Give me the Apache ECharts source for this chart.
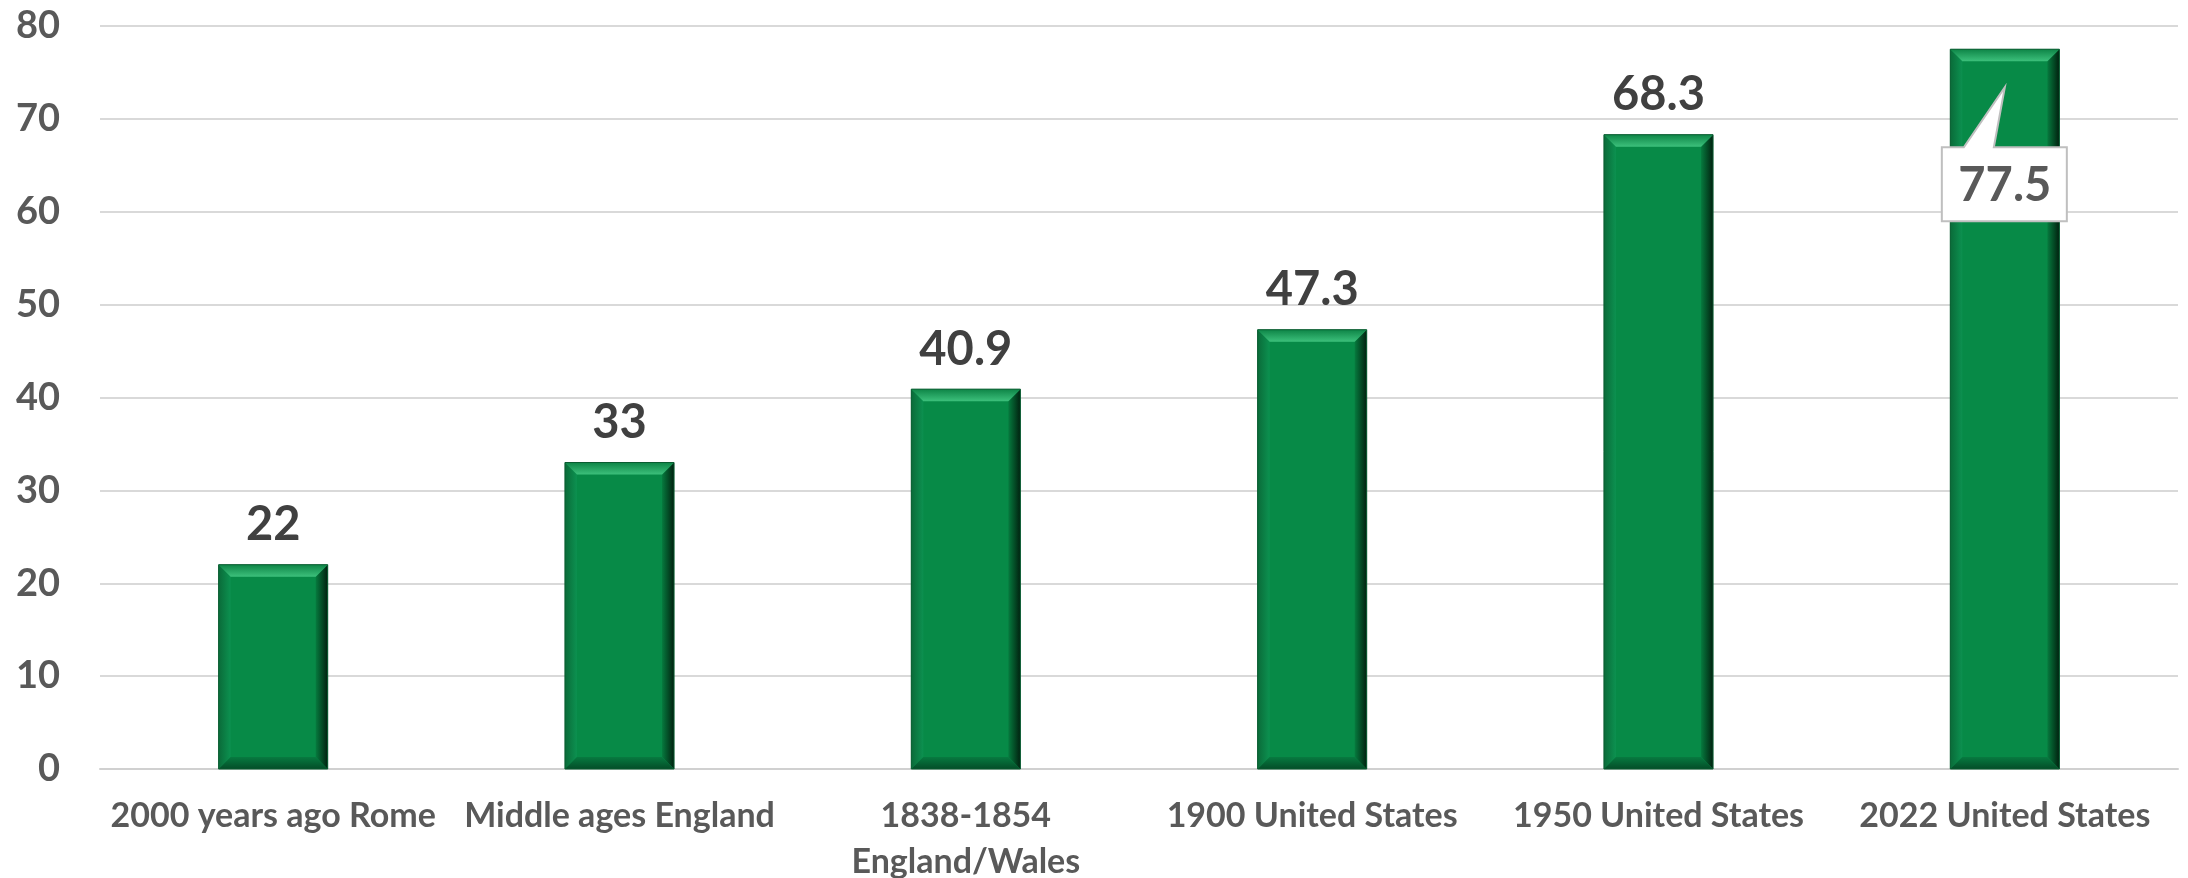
<!DOCTYPE html>
<html>
<head>
<meta charset="utf-8">
<script src="https://cdn.jsdelivr.net/npm/echarts@6/dist/echarts.min.js"></script>
<style>
  html, body { margin: 0; padding: 0; background: #ffffff; }
  #chart { width: 2188px; height: 878px; }
</style>
</head>
<body>
<div id="chart"></div>
<script>
// Life expectancy at birth (years)
var categories = [
  '2000 years ago Rome',
  'Middle ages England',
  '1838-1854\nEngland/Wales',
  '1900 United States',
  '1950 United States',
  '2022 United States'
];
var lifeExpectancy = [22, 33, 40.9, 47.3, 68.3, 77.5];
var yTicks = [0, 10, 20, 30, 40, 50, 60, 70, 80];
// the bar whose value is shown in a callout box instead of above the bar
var calloutIndex = 5;

var barRatio = 0.315;
var FONT = 'Lato, "Open Sans", "Noto Sans", sans-serif';

var barData = lifeExpectancy.map(function (v, i) {
  return i === calloutIndex ? { value: v, label: { show: false } } : v;
});
var bevelData = lifeExpectancy.map(function (v, i) { return [i, v]; });

function bevelRender(params, api) {
  var i = api.value(0), v = api.value(1);
  var top = api.coord([i, v]);
  var base = api.coord([i, 0]);
  var w = api.size([1, 0])[0] * barRatio;
  var x0 = top[0] - w / 2, x1 = top[0] + w / 2, y0 = top[1], yb = base[1];
  var d = 12;
  var children = [
    { // left edge
      type: 'polygon',
      shape: { points: [[x0, y0], [x0 + d, y0 + d], [x0 + d, yb - d], [x0, yb]] },
      style: { fill: new echarts.graphic.LinearGradient(0, 0, 1, 0, [
        { offset: 0, color: '#0a6b39' }, { offset: 1, color: '#0c9150' }]) }
    },
    { // right edge (shadowed)
      type: 'polygon',
      shape: { points: [[x1, y0], [x1, yb], [x1 - d, yb - d], [x1 - d, y0 + d]] },
      style: { fill: new echarts.graphic.LinearGradient(0, 0, 1, 0, [
        { offset: 0, color: '#067a3e' }, { offset: 0.6, color: '#034522' }, { offset: 1, color: '#01200f' }]) }
    },
    { // bottom edge
      type: 'polygon',
      shape: { points: [[x0, yb], [x1, yb], [x1 - d, yb - d], [x0 + d, yb - d]] },
      style: { fill: new echarts.graphic.LinearGradient(0, 0, 0, 1, [
        { offset: 0, color: '#077a40' }, { offset: 1, color: '#044d28' }]) }
    },
    { // top bevel highlight
      type: 'polygon',
      shape: { points: [[x0, y0], [x1, y0], [x1 - d, y0 + d], [x0 + d, y0 + d]] },
      style: { fill: new echarts.graphic.LinearGradient(0, 0, 0, 1, [
        { offset: 0, color: '#0e8547' }, { offset: 1, color: '#3cc07b' }]) }
    },
    { // thin outline
      type: 'rect',
      shape: { x: x0, y: y0, width: w, height: yb - y0 },
      style: { fill: 'none', stroke: '#0a5c31', lineWidth: 1 }
    }
  ];
  if (i === calloutIndex) {
    var cx = top[0];
    var tipY = y0 + 38, by = y0 + 98, bh = 74;
    var lx = cx - 63, rx = cx + 62;
    children.push({
      type: 'polygon',
      shape: { points: [[lx, by], [cx - 41, by], [cx, tipY], [cx - 11, by], [rx, by], [rx, by + bh], [lx, by + bh]] },
      style: { fill: '#ffffff', stroke: '#bfbfbf', lineWidth: 2 }
    });
    children.push({
      type: 'text',
      style: {
        text: String(v), x: cx, y: by + bh / 2 + 2,
        align: 'center', verticalAlign: 'middle',
        font: 'bold 47px ' + FONT, fill: '#595959'
      }
    });
  }
  return { type: 'group', children: children };
}

var chart = echarts.init(document.getElementById('chart'), null, { renderer: 'canvas' });
chart.setOption({
  animation: false,
  backgroundColor: '#ffffff',
  grid: { left: 100, right: 10, top: 26, bottom: 109, containLabel: false, outerBoundsMode: 'none' },
  xAxis: {
    type: 'category',
    data: categories,
    axisTick: { show: false },
    axisLine: { lineStyle: { color: '#d0d0d0', width: 2 } },
    axisLabel: {
      interval: 0, margin: 24,
      fontFamily: FONT, fontWeight: 'bold', fontSize: 34, lineHeight: 46,
      color: '#595959'
    }
  },
  yAxis: {
    type: 'value',
    min: yTicks[0], max: yTicks[yTicks.length - 1], interval: 10,
    axisLine: { show: false },
    axisTick: { show: false },
    splitLine: { lineStyle: { color: '#d9d9d9', width: 2 } },
    axisLabel: {
      margin: 40,
      fontFamily: FONT, fontWeight: 'bold', fontSize: 38, color: '#595959'
    }
  },
  series: [
    {
      type: 'bar',
      data: barData,
      barWidth: (barRatio * 100) + '%',
      itemStyle: { color: '#078a47' },
      label: {
        show: true, position: 'top', distance: 16,
        fontFamily: FONT, fontWeight: 'bold', fontSize: 47, color: '#404040'
      },
      z: 2
    },
    {
      type: 'custom',
      data: bevelData,
      renderItem: bevelRender,
      silent: true,
      z: 3
    }
  ]
});
</script>
</body>
</html>
